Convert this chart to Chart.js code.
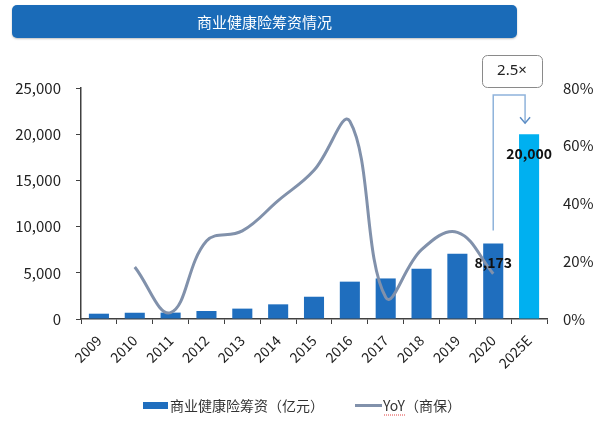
<!DOCTYPE html>
<html>
<head>
<meta charset="utf-8">
<script src="https://cdn.jsdelivr.net/npm/chart.js@4/dist/chart.umd.min.js"></script>
<style>
  body { margin: 0; background: #fff; }
  #wrap { position: relative; width: 600px; height: 446px; }
  #title {
    position: absolute; left: 12px; top: 5px; width: 505px; height: 33px;
    background: #1a6bb8; border-radius: 5px; color: #fff;
    font: 15px "Noto Sans CJK SC", sans-serif; line-height: 33px; text-align: center;
    box-shadow: 0 1px 2px rgba(0,0,0,0.25);
  }
  canvas { position: absolute; left: 0; top: 0; }
</style>
</head>
<body>
<div id="wrap">
  <canvas id="chart" width="600" height="446"></canvas>
  <div id="title">商业健康险筹资情况</div>
</div>
<script>
const years = ['2009', '2010', '2011', '2012', '2013', '2014', '2015', '2016', '2017', '2018', '2019', '2020', '2025E'];
const funding = [574, 677, 692, 863, 1123, 1587, 2410, 4042, 4389, 5448, 7066, 8173, 20000];
const yoy = [null, 18.0, 2.2, 27.0, 30.5, 41.0, 51.5, 68.5, 7.5, 24.0, 30.0, 15.7, null];
const leftTicks = [0, 5000, 10000, 15000, 20000, 25000];
const rightTicks = [0, 20, 40, 60, 80];
const labelled = { 11: '8,173', 12: '20,000' };
const multipleText = '2.5×';
const barName = '商业健康险筹资（亿元）';
const lineName = 'YoY（商保）';

const barColor = '#1f6ebe';
const forecastColor = '#00b0f0';
const lineColor = '#8191ab';
const axisColor = '#404040';
const font = '"Noto Sans CJK SC", sans-serif';

const extras = {
    id: 'extras',
    afterDatasetsDraw(chart) {
        const ctx = chart.ctx;
        const xs = chart.scales.x;
        const ys = chart.scales.y;

        // value labels inside bar tops
        ctx.save();
        ctx.font = 'bold 14px ' + font;
        ctx.fillStyle = '#111';
        ctx.textAlign = 'center';
        ctx.textBaseline = 'middle';
        Object.keys(labelled).forEach(i => {
            ctx.fillText(labelled[i], xs.getPixelForValue(+i), ys.getPixelForValue(funding[i]) + 19);
        });
        ctx.restore();

        // 2.5x connector
        const x1 = xs.getPixelForValue(11);
        const x2 = xs.getPixelForValue(12) - 4;
        const yTop = 95;
        ctx.save();
        ctx.strokeStyle = '#8fb3db';
        ctx.lineWidth = 1.5;
        ctx.beginPath();
        ctx.moveTo(x1, ys.getPixelForValue(funding[11]) - 13);
        ctx.lineTo(x1, yTop);
        ctx.lineTo(x2, yTop);
        const tip = ys.getPixelForValue(funding[12]) - 11;
        ctx.lineTo(x2, tip);
        ctx.stroke();
        ctx.strokeStyle = '#5b8cc4';
        ctx.beginPath();
        ctx.moveTo(x2 - 5, tip - 6);
        ctx.lineTo(x2, tip);
        ctx.lineTo(x2 + 5, tip - 6);
        ctx.stroke();

        // box
        const bx = 482, by = 55, bw = 60, bh = 32;
        ctx.fillStyle = '#fff';
        ctx.strokeStyle = '#8a8a8a';
        ctx.lineWidth = 1;
        ctx.beginPath();
        ctx.roundRect(bx + 0.5, by + 0.5, bw, bh, 5);
        ctx.fill();
        ctx.stroke();
        ctx.fillStyle = '#222';
        ctx.font = '15px "Noto Sans", sans-serif';
        ctx.textAlign = 'center';
        ctx.textBaseline = 'middle';
        ctx.fillText(multipleText, bx + bw / 2, by + bh / 2);
        ctx.restore();
    },
    afterDraw(chart) {
        // legend
        const ctx = chart.ctx;
        const ly = 405.5;
        ctx.save();
        ctx.fillStyle = barColor;
        ctx.fillRect(143, ly - 3.5, 25, 7);
        ctx.font = '14px ' + font;
        ctx.fillStyle = '#333';
        ctx.textBaseline = 'middle';
        ctx.fillText(barName, 170, ly);
        ctx.strokeStyle = lineColor;
        ctx.lineWidth = 3;
        ctx.beginPath();
        ctx.moveTo(355, ly);
        ctx.lineTo(382, ly);
        ctx.stroke();
        ctx.fillStyle = '#333';
        ctx.fillText(lineName, 383, ly);
        const w = ctx.measureText('YoY').width;
        ctx.strokeStyle = '#e04040';
        ctx.lineWidth = 1;
        ctx.setLineDash([1, 1]);
        ctx.beginPath();
        ctx.moveTo(384, ly + 9.5);
        ctx.lineTo(383 + w, ly + 9.5);
        ctx.stroke();
        ctx.restore();
    }
};

new Chart(document.getElementById('chart'), {
    type: 'bar',
    data: {
        labels: years,
        datasets: [
            {
                type: 'line',
                label: lineName,
                data: yoy,
                yAxisID: 'y1',
                borderColor: lineColor,
                borderWidth: 3,
                tension: 0.4,
                pointRadius: 0,
                spanGaps: false,
                order: 0
            },
            {
                label: barName,
                data: funding,
                yAxisID: 'y',
                backgroundColor: funding.map((v, i) => i === funding.length - 1 ? forecastColor : barColor),
                barPercentage: 0.56,
                categoryPercentage: 1,
                order: 1
            }
        ]
    },
    options: {
        responsive: false,
        animation: false,
        layout: { padding: { top: 88, left: 0, right: 0, bottom: 0 } },
        plugins: {
            legend: { display: false },
            tooltip: { enabled: false }
        },
        scales: {
            x: {
                grid: { display: true, drawOnChartArea: false, offset: true, tickLength: 5, color: axisColor },
                border: { display: true, color: axisColor, width: 1.5 },
                ticks: {
                    font: { family: font, size: 14 },
                    color: '#222',
                    minRotation: 45,
                    maxRotation: 45,
                    autoSkip: false,
                    padding: 8
                },
                afterFit(scale) { scale.height = 127; }
            },
            y: {
                position: 'left',
                min: 0,
                max: 25000,
                afterBuildTicks(scale) { scale.ticks = leftTicks.map(v => ({ value: v })); },
                grid: { display: true, drawOnChartArea: false, tickLength: 5, color: axisColor },
                border: { display: true, color: axisColor, width: 1.5 },
                ticks: {
                    font: { family: font, size: 15 },
                    color: '#222',
                    padding: 15,
                    callback: v => v.toLocaleString('en-US')
                },
                afterFit(scale) { scale.width = 81; }
            },
            y1: {
                position: 'right',
                min: 0,
                max: 80,
                afterBuildTicks(scale) { scale.ticks = rightTicks.map(v => ({ value: v })); },
                grid: { display: false, drawTicks: false },
                border: { display: false },
                ticks: {
                    font: { family: font, size: 15 },
                    color: '#222',
                    padding: 16,
                    callback: v => v + '%'
                },
                afterFit(scale) { scale.width = 53; }
            }
        }
    },
    plugins: [extras]
});
</script>
</body>
</html>
